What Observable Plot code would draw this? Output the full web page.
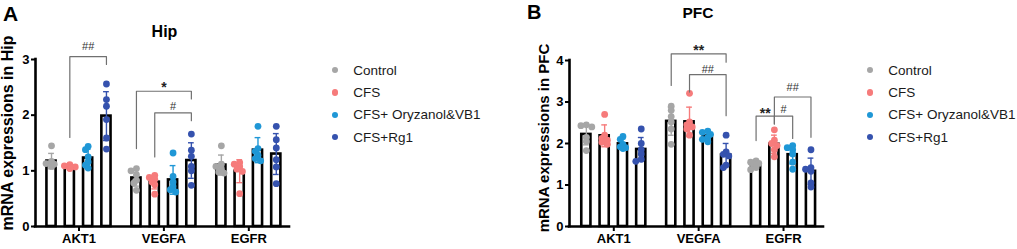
<!DOCTYPE html>
<html><head><meta charset="utf-8">
<script src="https://cdn.jsdelivr.net/npm/d3@7"></script>
<script src="https://cdn.jsdelivr.net/npm/@observablehq/plot@0.6"></script>
<style>
body{margin:0;background:#fff;font-family:"Liberation Sans",Arial,sans-serif;}
#fig{position:relative;width:1017px;height:249px;overflow:hidden;background:#fff;}
.abs{position:absolute;white-space:nowrap;line-height:1;color:#000;}
.dot{position:absolute;border-radius:50%;width:6.4px;height:6.4px;}
</style></head><body><div id="fig"></div>
<script>
const genes = ["AKT1", "VEGFA", "EGFR"];
const groups = ["Control", "CFS", "CFS+ Oryzanol&VB1", "CFS+Rg1"];
const groupColors = ["#a6a6a6", "#f67b7b", "#1f97d6", "#3552ae"];

// Panel A (Hip): each array = one group, inner lists = animals per gene (AKT1, VEGFA, EGFR)
const hipControl = [[1.45,1.17,1.13,1.10,1.08,1.12],[1.04,1.00,0.93,0.83,0.78,0.65],[1.45,1.12,1.08,1.03,0.98,0.96]];
const hipCFS     = [[1.11,1.09,1.07,1.06,1.05,1.04],[0.92,0.88,0.85,0.80,0.75,0.58],[1.15,1.12,1.08,1.03,0.99,0.59]];
const hipOry     = [[1.44,1.38,1.25,1.16,1.10,1.05],[1.32,0.90,0.80,0.72,0.66,0.62],[1.80,1.40,1.35,1.28,1.22,1.18]];
const hipRg1     = [[2.56,2.28,2.16,1.92,1.59,1.39],[1.66,1.37,1.26,1.08,1.00,0.74],[1.80,1.56,1.41,1.20,1.07,0.77]];

// Panel B (PFC)
const pfcControl = [[2.45,2.43,2.40,2.15,2.05,1.83],[2.90,2.80,2.65,2.52,2.35,1.98],[1.58,1.55,1.52,1.48,1.42,1.37]];
const pfcCFS     = [[2.70,2.20,2.12,2.08,2.03,1.98],[3.21,2.52,2.45,2.40,2.35,2.20],[2.33,2.08,2.00,1.95,1.85,1.68]];
const pfcOry     = [[2.17,2.10,1.98,1.92,1.90,1.88],[2.30,2.27,2.22,2.15,2.10,2.04],[1.95,1.90,1.85,1.75,1.55,1.38]];
const pfcRg1     = [[2.35,2.00,1.85,1.75,1.62,1.57],[2.20,1.80,1.74,1.70,1.48,1.42],[1.85,1.42,1.38,1.33,1.05,0.95]];

const hipTicks = [0, 1, 2, 3];
const pfcTicks = [0, 1, 2, 3, 4];

// significance brackets: gene index, from/to group index, bracket top, leg ends, label, label height
const hipBrackets = [
  {gene: 0, from: 1, to: 3, top: 3.05, leftEnd: 1.60, rightEnd: 2.91, label: "##", labelY: 3.23},
  {gene: 1, from: 0, to: 3, top: 2.43, leftEnd: 1.40, rightEnd: 2.29, label: "*",  labelY: 2.55},
  {gene: 1, from: 1, to: 3, top: 2.04, leftEnd: 1.25, rightEnd: 1.90, label: "#",  labelY: 2.15}
];
const pfcBrackets = [
  {gene: 1, from: 0, to: 3, top: 4.16, leftEnd: 3.40, rightEnd: 3.96, label: "**", labelY: 4.32},
  {gene: 1, from: 1, to: 3, top: 3.66, leftEnd: 3.24, rightEnd: 2.67, label: "##", labelY: 3.78},
  {gene: 2, from: 0, to: 1, top: 2.66, leftEnd: 2.07, rightEnd: 2.47, label: "**", labelY: 2.80},
  {gene: 2, from: 1, to: 2, top: 2.66, leftEnd: 2.47, rightEnd: 2.12, label: "#",  labelY: 2.83},
  {gene: 2, from: 1, to: 3, top: 3.12, leftEnd: 2.66, rightEnd: 2.15, label: "##", labelY: 3.35}
];

const FONT = "'Liberation Sans', Arial, sans-serif";
const BAR_STEP = 0.2156;   // spacing of the 4 bars inside a gene group (x units)
const BAR_HALF = 0.054;
const CAP_HALF = 0.034;
const R = 3.4;

function dodgeOffsets(vals, pxY, pxX) {
  const order = d3.range(vals.length).sort((a, b) => vals[b] - vals[a]);
  const placed = [], off = new Array(vals.length);
  const step = R * 0.8;
  for (const i of order) {
    const yv = vals[i] * pxY;
    let done = false;
    for (const c of [0, -1, 1, -2, 2]) {
      const xv = c * step;
      if (placed.every(p => Math.hypot(p[0] - xv, p[1] - yv) >= R * 1.05)) {
        placed.push([xv, yv]); off[i] = xv / pxX; done = true; break;
      }
    }
    if (!done) { placed.push([0, yv]); off[i] = 0; }
  }
  return off;
}

function panel({sets, ticks, brackets, width, height, marginLeft, marginRight, marginTop, marginBottom, xDomain}) {
  const yMax = ticks[ticks.length - 1];
  const pxY = (height - marginTop - marginBottom) / yMax;
  const pxX = (width - marginLeft - marginRight) / (xDomain[1] - xDomain[0]);
  const summary = [], points = [], caps = [];
  sets.forEach((set, k) => set.forEach((vals, g) => {
    const xc = g + (k - 1.5) * BAR_STEP;
    const mean = d3.mean(vals), sd = d3.deviation(vals);
    summary.push({g, k, group: groups[k], xc, mean, sd});
    caps.push({xc, y: mean + sd, group: groups[k]}, {xc, y: mean - sd, group: groups[k]});
    const offs = dodgeOffsets(vals, pxY, pxX);
    vals.forEach((v, i) => points.push({x: xc + offs[i], v, group: groups[k]}));
  }));
  const bx = (g, k) => g + (k - 1.5) * BAR_STEP;
  const paths = [];
  brackets.forEach((b, id) => {
    const xl = bx(b.gene, b.from), xr = bx(b.gene, b.to);
    paths.push({id, x: xl, y: b.leftEnd}, {id, x: xl, y: b.top}, {id, x: xr, y: b.top}, {id, x: xr, y: b.rightEnd});
  });
  const labels = brackets.map(b => ({x: (bx(b.gene, b.from) + bx(b.gene, b.to)) / 2, y: b.labelY, label: b.label, star: b.label.includes("*")}));

  return Plot.plot({
    width, height, marginLeft, marginRight, marginTop, marginBottom,
    style: `font-family:${FONT};background:transparent;overflow:visible;`,
    x: {domain: xDomain},
    y: {domain: [0, yMax]},
    color: {domain: groups, range: groupColors},
    marks: [
      Plot.rect(summary, {x1: d => d.xc - BAR_HALF, x2: d => d.xc + BAR_HALF, y1: 0, y2: "mean", fill: "white", stroke: "black", strokeWidth: 2.6}),
      Plot.ruleX(summary, {x: "xc", y1: d => d.mean - d.sd, y2: d => d.mean + d.sd, stroke: "group", strokeWidth: 1.4}),
      Plot.ruleY(caps, {y: "y", x1: d => d.xc - CAP_HALF, x2: d => d.xc + CAP_HALF, stroke: "group", strokeWidth: 1.4}),
      Plot.dot(points, {x: "x", y: "v", r: R, fill: "group"}),
      Plot.line(paths, {x: "x", y: "y", z: "id", stroke: "#707070", strokeWidth: 1.2}),
      Plot.text(labels.filter(d => !d.star), {x: "x", y: "y", text: "label", fontSize: 11, fill: "#333"}),
      Plot.text(labels.filter(d => d.star), {x: "x", y: "y", text: "label", fontSize: 14, fontWeight: "bold", fill: "#222", dy: 3}),
      Plot.ruleY([0], {strokeWidth: 2.6, strokeLinecap: "square"}),
      Plot.ruleX([xDomain[0]], {y1: 0, y2: yMax, strokeWidth: 2.6, strokeLinecap: "square"}),
      Plot.axisY({ticks, tickFormat: "d", tickSize: 4, tickPadding: 2, strokeWidth: 2, fontSize: 13, fontWeight: "bold", label: null}),
      Plot.axisX({ticks: [0, 1, 2], tickFormat: i => genes[i], tickSize: 5, tickPadding: 2, strokeWidth: 2, fontSize: 13, fontWeight: "bold", label: null})
    ]
  });
}

const fig = document.getElementById("fig");
function place(el, left) {
  const w = document.createElement("div");
  w.style.cssText = `position:absolute;left:${left}px;top:0;`;
  w.appendChild(el); fig.appendChild(w);
}
place(panel({sets: [hipControl, hipCFS, hipOry, hipRg1], ticks: hipTicks, brackets: hipBrackets,
  width: 300, height: 249, marginLeft: 35, marginRight: 11, marginTop: 59, marginBottom: 23, xDomain: [-0.512, 2.479]}), 0);
place(panel({sets: [pfcControl, pfcCFS, pfcOry, pfcRg1], ticks: pfcTicks, brackets: pfcBrackets,
  width: 303, height: 249, marginLeft: 39, marginRight: 10, marginTop: 60, marginBottom: 23, xDomain: [-0.522, 2.471]}), 530);

function text(str, {left, top, size, weight = "normal", center = false, rotate = false, color = "#000"}) {
  const d = document.createElement("div");
  d.className = "abs";
  d.textContent = str;
  let tf = [];
  if (center) tf.push("translateX(-50%)");
  if (rotate) tf = ["translate(-50%,-50%)", "rotate(-90deg)"];
  d.style.cssText = `left:${left}px;top:${top}px;font-size:${size}px;font-weight:${weight};color:${color};${tf.length ? "transform:" + tf.join(" ") + ";" : ""}`;
  fig.appendChild(d);
}
// panel letters and titles
text("A", {left: 3, top: 2.5, size: 21, weight: "bold"});
text("B", {left: 527, top: 1.8, size: 20, weight: "bold"});
text("Hip", {left: 164.5, top: 24.2, size: 16, weight: "bold", center: true});
text("PFC", {left: 698, top: 5.2, size: 15.5, weight: "bold", center: true});
text("mRNA expressions in Hip", {left: 7.9, top: 133.3, size: 16, weight: "bold", rotate: true});
text("mRNA expressions in PFC", {left: 542.8, top: 138.3, size: 15, weight: "bold", rotate: true});

// legends
[335, 870].forEach(x0 => {
  groups.forEach((g, i) => {
    const cy = 70.3 + i * 22.3;
    const dot = document.createElement("div");
    dot.className = "dot";
    dot.style.cssText = `left:${x0 - 3.2}px;top:${cy - 3.2}px;background:${groupColors[i]};`;
    fig.appendChild(dot);
    text(g, {left: x0 + 18.3, top: cy - 6.6, size: 13.5, color: "#1a1a1a"});
  });
});
</script>
</body></html>
